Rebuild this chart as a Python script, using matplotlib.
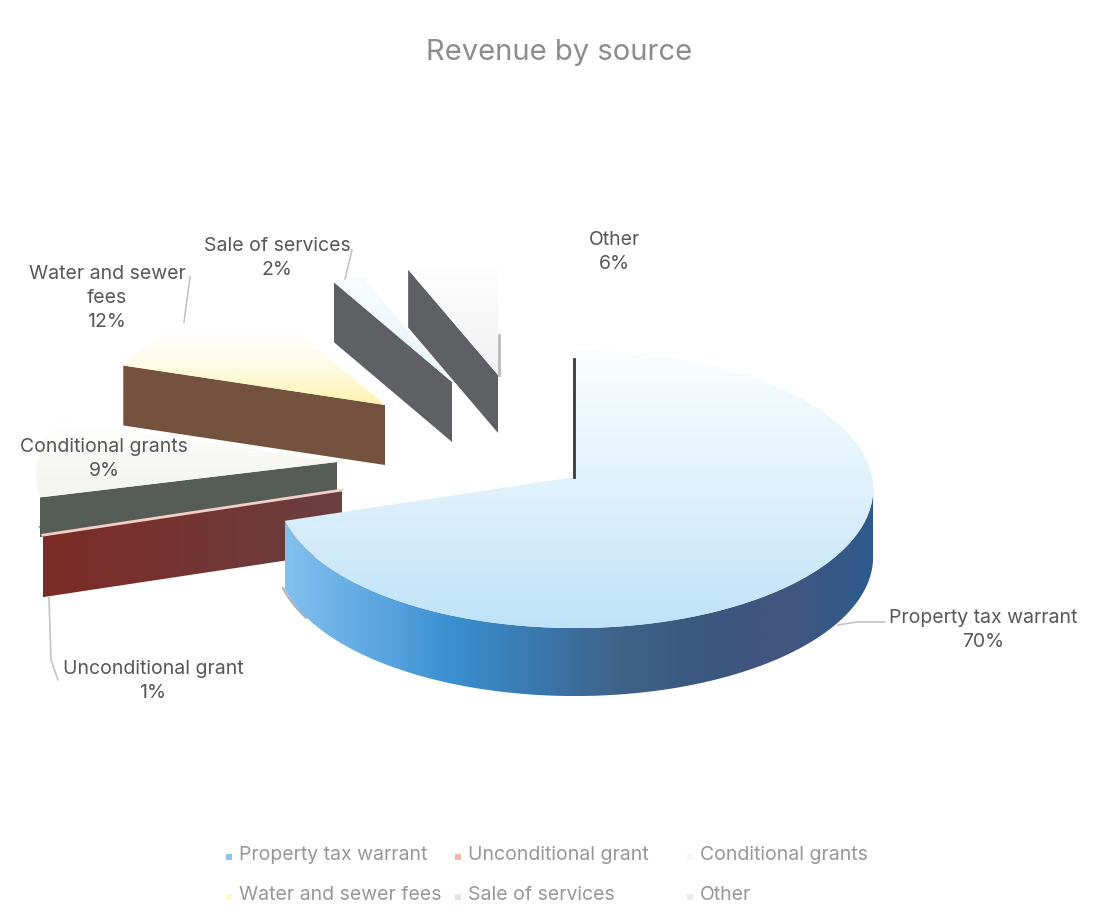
"""Revenue by source: exploded perspective pie drawn on a pixel-sized canvas."""

import numpy as np
import matplotlib

matplotlib.use("Agg")
import matplotlib.pyplot as plt
from matplotlib.colors import LinearSegmentedColormap
from matplotlib.patches import Polygon

title = "Revenue by source"
sources = [
    "Property tax warrant",
    "Unconditional grant",
    "Conditional grants",
    "Water and sewer fees",
    "Sale of services",
    "Other",
]
shares = [70, 1, 9, 12, 2, 6]

plt.rcParams["font.family"] = ["Inter", "DejaVu Sans"]

# apex of each slice on the canvas, and how far its radius is shrunk
APEX = [(575, 477), (342, 490), (337, 462), (385, 405), (452, 382), (498, 375)]
SHRINK = [1.0, 1.03, 1.01, 0.95, 0.88, 0.88]
DEPTH = [68, 62, 40, 60, 60, 58]

TOP_COLORS = [
    ["#fbfeff", "#dff1fc", "#bfe2f8"],
    ["#565c56", "#565c56"],
    ["#ffffff", "#f8f8f5", "#f4f4f0"],
    ["#ffffff", "#ffffff", "#fffbe2", "#fdf2ae"],
    ["#f8fcfe", "#e6f4f9"],
    ["#ffffff", "#f7f7f7", "#f2f2f2"],
]
EDGE_COLORS = [None, ["#7c2b26", "#6b3f40"], ["#565c56", "#565c56"],
               ["#74523f", "#74523f"], ["#5f6064", "#5f6064"], ["#5f6064", "#5f6064"]]
RIM_STOPS = ["#82c0ee", "#5ea8e2", "#3a8fd0", "#3a78ae", "#3f6288", "#3b577f", "#43557f", "#2c5b8e"]

LABEL_POS = [(983, 630), (153, 681), (104, 459), (107, 298), (277, 258), (614, 252)]
LABEL_TEXT = ["Property tax warrant", "Unconditional grant", "Conditional grants",
              "Water and sewer\nfees", "Sale of services", "Other"]
LEADERS = [
    [(838, 625), (856, 622), (885, 622)],
    [(49, 598), (51, 660), (58, 680)],
    [(183, 330), (190, 277)],
    [(345, 279), (352, 250)],
]
LEGEND_CELLS = [(239, 855), (468, 855), (700, 855), (239, 895), (468, 895), (700, 895)]
LEGEND_SWATCH = ["#8cc6e4", "#f4b8a4", "#f6f6f4", "#fdf8c8", "#dde7ea", "#ececec"]


def project(theta, radius=1.0):
    """Map a clockwise-from-north angle onto the tilted disc, near edge larger."""
    u = radius * np.sin(np.radians(theta))
    v = radius * np.cos(np.radians(theta))
    scale = 1 + 0.0864 * v
    return 297 * u / scale, -138 * v / scale


def gradient_fill(ax, xs, ys, stops, horizontal=False, zorder=2):
    cmap = LinearSegmentedColormap.from_list("fill", stops)
    ramp = np.linspace(0, 1, 256)
    ramp = ramp.reshape(1, -1) if horizontal else ramp.reshape(-1, 1)
    img = ax.imshow(
        ramp,
        cmap=cmap,
        aspect="auto",
        origin="upper",
        extent=(min(xs), max(xs), max(ys), min(ys)),
        zorder=zorder,
        interpolation="bilinear",
    )
    img.set_clip_path(Polygon(np.column_stack([xs, ys]), transform=ax.transData))


fig = plt.figure(figsize=(10.97, 9.21), dpi=100)
ax = fig.add_axes([0, 0, 1, 1])

edges = np.concatenate([[0], np.cumsum(shares)]) * 3.6
draw_order = [5, 4, 3, 2, 1, 0]

for z, i in enumerate(draw_order):
    start, stop = edges[i], edges[i + 1]
    cx, cy = APEX[i]
    arc = np.linspace(start, stop, 160)
    rim_x, rim_y = project(arc, SHRINK[i])
    rim_x, rim_y = rim_x + cx, rim_y + cy

    top_x = np.concatenate([[cx], rim_x])
    top_y = np.concatenate([[cy], rim_y])
    if i == 0:
        # outer wall only shows along the near side of the disc
        near = arc[arc >= 92]
        wall_x, wall_y = project(near)
        wall_x, wall_y = wall_x + cx, wall_y + cy
        xs = np.concatenate([wall_x, wall_x[::-1]])
        ys = np.concatenate([wall_y, wall_y[::-1] + DEPTH[i]])
        tail = near >= 238
        ax.plot(wall_x[tail] - 2, wall_y[tail] + DEPTH[i] - 1, color="#b5adaa", lw=1.4, zorder=1 + z)
        gradient_fill(ax, xs, ys, RIM_STOPS, horizontal=True, zorder=2 + z)
    else:
        ex, ey = project(start, SHRINK[i])
        xs = [cx, cx + ex, cx + ex, cx]
        ys = [cy, cy + ey, cy + ey + DEPTH[i], cy + DEPTH[i]]
        gradient_fill(ax, xs, ys, EDGE_COLORS[i], horizontal=True, zorder=2 + z)

    gradient_fill(ax, top_x, top_y, TOP_COLORS[i], zorder=2.5 + z)
    if i == 1:
        # the thin slice reads as a bright seam along its near cut
        ax.plot([cx, rim_x[0]], [cy, rim_y[0]], color="#f3cfc6", lw=2, zorder=2.6 + z)

# edge-on cut faces at twelve o'clock
bx, by = project(0, 0.92)
ax.plot([APEX[0][0] - 1] * 2, [APEX[0][1] + by, APEX[0][1]], color="#38393c", lw=2.0, zorder=12)
bx, by = project(0, 0.3)
ax.plot([APEX[5][0] + 1] * 2, [APEX[5][1] + by, APEX[5][1]], color="#b9babc", lw=2.0, zorder=3)

for path in LEADERS:
    ax.plot(*zip(*path), color="#c4c4c4", lw=1.2, zorder=1)

ax.text(559, 52, title, ha="center", va="center", fontsize=21, color="#8c8c8c")

for pos, name, share in zip(LABEL_POS, LABEL_TEXT, shares):
    ax.text(pos[0], pos[1], f"{name}\n{share}%", ha="center", va="center",
            fontsize=14, color="#56575b", linespacing=1.45, zorder=20)

for (x, y), name, swatch in zip(LEGEND_CELLS, sources, LEGEND_SWATCH):
    ax.plot(x - 10, y + 2, "s", ms=5, color=swatch, mew=0, zorder=20)
    ax.text(x, y, name, ha="left", va="center", fontsize=14, color="#979797", zorder=20)

ax.set_xlim(0, 1097)
ax.set_ylim(921, 0)
ax.axis("off")
fig.savefig("out.png", dpi=100)
